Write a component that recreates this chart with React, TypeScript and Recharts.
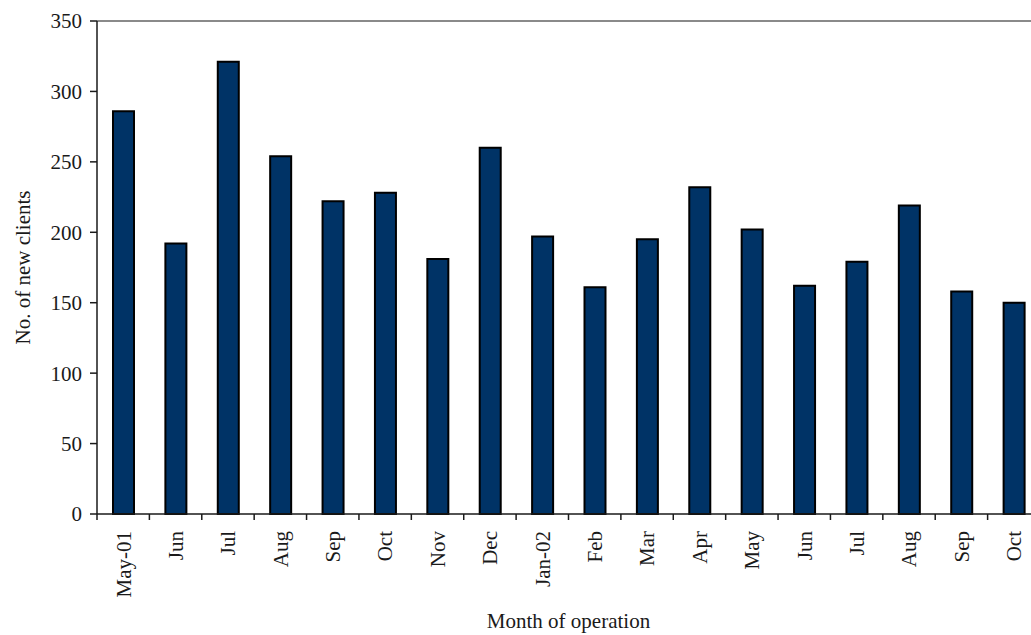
import React from 'react';
import { BarChart, Bar, XAxis, YAxis, ReferenceLine } from 'recharts';

const months = ['May-01', 'Jun', 'Jul', 'Aug', 'Sep', 'Oct', 'Nov', 'Dec', 'Jan-02', 'Feb', 'Mar', 'Apr', 'May', 'Jun', 'Jul', 'Aug', 'Sep', 'Oct'];
const newClients = [286, 192, 321, 254, 222, 228, 181, 260, 197, 161, 195, 232, 202, 162, 179, 219, 158, 150];
const yTicks = [0, 50, 100, 150, 200, 250, 300, 350];

const data = months.map((m, i) => ({ month: m, clients: newClients[i] }));

const FONT = '"Liberation Serif", "Times New Roman", serif';
const INK = '#1a1a1a';

function MonthTick(props: any) {
  const { x, y, payload } = props;
  const half = payload && typeof payload.offset === 'number' ? payload.offset : 0;
  return (
    <g>
      <line x1={x - half} x2={x - half} y1={y} y2={y + 6} stroke={INK} strokeWidth={1.5} />
      <text
        transform={`translate(${x},${y + 17}) rotate(-90)`}
        textAnchor="end"
        dy="0.35em"
        fontFamily={FONT}
        fontSize={21}
        fill={INK}
      >
        {payload.value}
      </text>
    </g>
  );
}

function YTitle(props: any) {
  const vb = props.viewBox || {};
  return (
    <text
      transform={`translate(${vb.x + 23},${vb.y + vb.height / 2}) rotate(-90)`}
      textAnchor="middle"
      dy="0.35em"
      fontFamily={FONT}
      fontSize={21}
      fill={INK}
    >
      No. of new clients
    </text>
  );
}

function XTitle(props: any) {
  const vb = props.viewBox || {};
  return (
    <text
      x={vb.x + vb.width / 2}
      y={vb.y + vb.height - 7}
      textAnchor="middle"
      fontFamily={FONT}
      fontSize={21}
      fill={INK}
    >
      Month of operation
    </text>
  );
}

export default function App() {
  return (
    <div style={{ position: 'absolute', left: 0, top: 0, width: 1031, height: 635, overflow: 'hidden', background: '#fff' }}>
      <BarChart
        width={1045}
        height={635}
        data={data}
        margin={{ top: 21, right: 5, left: 0, bottom: 0 }}
        barCategoryGap={0}
      >
        <ReferenceLine y={350} stroke="#8a8a8a" strokeWidth={2} ifOverflow="extendDomain" />
        <XAxis
          dataKey="month"
          height={121}
          interval={0}
          tickLine={false}
          tickSize={0}
          tickMargin={0}
          axisLine={{ stroke: INK, strokeWidth: 1.5 }}
          tick={<MonthTick />}
          label={{ content: <XTitle /> }}
        />
        <YAxis
          width={97}
          domain={[0, 350]}
          ticks={yTicks}
          interval={0}
          tickSize={7}
          tickMargin={8}
          axisLine={{ stroke: INK, strokeWidth: 1.5 }}
          tickLine={{ stroke: INK, strokeWidth: 1.5 }}
          tick={{ fontFamily: FONT, fontSize: 21, fill: INK }}
          label={{ content: <YTitle /> }}
        />
        <Bar dataKey="clients" barSize={21} fill="#003366" stroke="#000" strokeWidth={2} isAnimationActive={false} />
      </BarChart>
    </div>
  );
}
